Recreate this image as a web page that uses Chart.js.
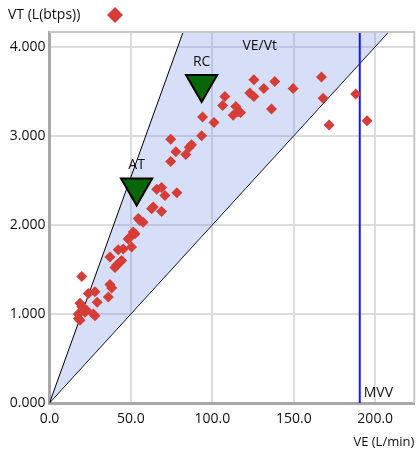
<!DOCTYPE html>
<html>
<head>
<meta charset="utf-8">
<script src="https://cdn.jsdelivr.net/npm/chart.js@4.4.1/dist/chart.umd.min.js"></script>
<style>
  html, body { margin: 0; padding: 0; background: #fff; }
</style>
</head>
<body>
<canvas id="vtve" width="416" height="450"></canvas>
<script>
// VE (L/min) and VT (L btps) for each breath sample
const veValues = [19.8, 18.7, 19.8, 17.7, 20.5, 21.8, 18.7, 17.7, 22.8, 23.8, 27.9, 29.3, 26.9, 27.9, 36.1, 37.1, 38.2, 40.2, 41.2, 43.3,
                  44.3, 37.1, 42.2, 45.3, 50.4, 48.3, 49.4, 51.4, 52.5, 54.5, 55.5, 57.5, 62.7, 63.7, 68.8, 65.8, 68.8, 70.9, 78.2, 74.4,
                  77.6, 74.4, 83.7, 85.8, 87.2, 93.4, 94.0, 101.0, 106.3, 107.7, 112.8, 114.4, 115.8, 117.3, 123.0, 125.5, 125.5, 131.6, 138.3, 136.3,
                  149.6, 167.0, 168.0, 171.7, 188.0, 195.0];
const vtValues = [1.42, 1.12, 1.08, 1.00, 1.04, 1.02, 0.93, 0.95, 1.04, 1.23, 1.25, 1.13, 1.00, 0.98, 1.19, 1.33, 1.29, 1.52, 1.55, 1.58,
                  1.60, 1.64, 1.72, 1.73, 1.75, 1.84, 1.86, 1.92, 1.90, 2.07, 2.05, 2.03, 2.18, 2.20, 2.15, 2.40, 2.42, 2.33, 2.36, 2.71,
                  2.82, 2.96, 2.79, 2.87, 2.90, 3.00, 3.21, 3.15, 3.34, 3.44, 3.23, 3.33, 3.27, 3.26, 3.48, 3.44, 3.63, 3.53, 3.61, 3.30,
                  3.53, 3.66, 3.42, 3.12, 3.47, 3.17];

// thresholds
const thresholdNames = ['AT', 'RC'];
const thresholdVE = [53.5, 93.4];
const thresholdVT = [2.42, 3.58];

// VE/Vt boundary lines (VE, VT) and MVV
const upperVE = [0, 98.5, 250];
const upperVT = [0, 5, 5];
const lowerVE = [0, 250];
const lowerVT = [0, 5];
const mvvVE = 190.5;
const mvvVT = [0, 5];

const xMax = 224, yMax = 4.165;
const font = '"Open Sans", sans-serif';

const pts = (xs, ys) => xs.map((x, i) => ({x: x, y: ys[i]}));

const extras = {
  id: 'extras',
  afterDatasetsDraw(chart) {
    const ctx = chart.ctx, a = chart.chartArea;
    const xs = chart.scales.x, ys = chart.scales.y;
    ctx.save();
    ctx.fillStyle = '#111';
    ctx.font = '14px ' + font;
    ctx.textBaseline = 'middle';
    ctx.textAlign = 'center';
    thresholdNames.forEach((n, i) => {
      ctx.fillText(n, xs.getPixelForValue(thresholdVE[i]), ys.getPixelForValue(thresholdVT[i]) - 22);
    });
    ctx.textAlign = 'left';
    ctx.fillText('VE/Vt', xs.getPixelForValue(118.5), ys.getPixelForValue(4.01));
    ctx.fillText('MVV', xs.getPixelForValue(mvvVE) + 4, a.bottom - 10);
    // top / right frame
    ctx.strokeStyle = '#c8c8c8';
    ctx.lineWidth = 2;
    ctx.beginPath();
    ctx.moveTo(a.left, a.top);
    ctx.lineTo(a.right, a.top);
    ctx.lineTo(a.right, a.bottom);
    ctx.stroke();
    ctx.restore();
  },
  afterDraw(chart) {
    const ctx = chart.ctx;
    ctx.save();
    ctx.fillStyle = '#111';
    ctx.font = '14px ' + font;
    ctx.textBaseline = 'middle';
    ctx.textAlign = 'left';
    ctx.fillText('VT (L(btps))', 8, 15);
    ctx.fillStyle = '#d63d36';
    Chart.helpers.drawPoint(ctx, {pointStyle: 'rectRot', radius: 8, rotation: 0, borderWidth: 0}, 115, 15);
    ctx.restore();
  }
};

new Chart(document.getElementById('vtve'), {
  type: 'scatter',
  data: {
    datasets: [
      {
        label: 'VT',
        data: pts(veValues, vtValues),
        pointStyle: 'rectRot',
        pointRadius: 5.5,
        pointBorderWidth: 0,
        backgroundColor: '#d63d36'
      },
      {
        label: 'thresholds',
        data: pts(thresholdVE, thresholdVT),
        pointStyle: 'triangle',
        rotation: 180,
        pointRadius: 18,
        backgroundColor: '#076607',
        borderColor: '#000',
        pointBorderWidth: 2
      },
      {
        label: 'MVV',
        data: pts([mvvVE, mvvVE], mvvVT),
        showLine: true,
        pointRadius: 0,
        borderColor: '#1515ff',
        borderWidth: 2
      },
      {
        label: 'upper',
        data: pts(upperVE, upperVT),
        showLine: true,
        pointRadius: 0,
        borderColor: '#000',
        borderWidth: 1,
        fill: '+1',
        backgroundColor: 'rgba(118, 148, 228, 0.3)'
      },
      {
        label: 'lower',
        data: pts(lowerVE, lowerVT),
        showLine: true,
        pointRadius: 0,
        borderColor: '#000',
        borderWidth: 1
      }
    ]
  },
  options: {
    responsive: false,
    animation: false,
    layout: { autoPadding: false, padding: { top: 32, right: 1.7, left: 0, bottom: 0 } },
    plugins: {
      legend: { display: false },
      tooltip: { enabled: false }
    },
    scales: {
      x: {
        type: 'linear',
        min: 0,
        max: xMax,
        afterFit(s) { s.height = 47; },
        ticks: {
          stepSize: 50,
          includeBounds: false,
          padding: 8,
          color: '#111',
          font: { family: font, size: 14 },
          callback: v => v.toFixed(1)
        },
        grid: { color: '#dcdcdc', lineWidth: 2, drawTicks: false },
        border: { color: '#a8a8a8', width: 3 },
        title: {
          display: true,
          text: 'VE (L/min)',
          align: 'end',
          color: '#111',
          font: { family: font, size: 13 },
          padding: { top: 0, bottom: 0 }
        }
      },
      y: {
        type: 'linear',
        min: 0,
        max: yMax,
        afterFit(s) { s.width = 49.5; },
        ticks: {
          stepSize: 1,
          includeBounds: false,
          padding: 4,
          color: '#111',
          font: { family: font, size: 14 },
          callback: v => v.toFixed(3)
        },
        grid: { color: '#dcdcdc', lineWidth: 2, drawTicks: false },
        border: { color: '#a8a8a8', width: 3 }
      }
    }
  },
  plugins: [extras]
});
</script>
</body>
</html>
